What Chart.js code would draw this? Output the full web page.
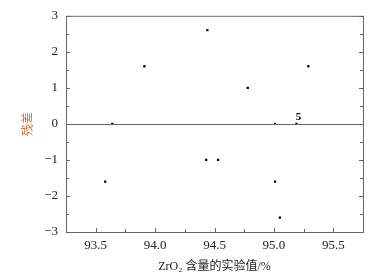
<!DOCTYPE html>
<html>
<head>
    <meta charset="utf-8">
    <title>ZrO2 residuals</title>
    <script src="https://cdn.jsdelivr.net/npm/chart.js@4.4.1/dist/chart.umd.min.js"></script>
    <style>
        body { margin: 0; background: #fff; }
        #wrap { width: 384px; height: 274px; }
    </style>
</head>
<body>
<div id="wrap"><canvas id="chart" width="384" height="274"></canvas></div>
<script>
    // measured values (ZrO2 experimental %, residual)
    const expValues = [93.58, 93.64, 93.91, 94.44, 94.43, 94.53, 94.78, 95.01, 95.01, 95.05, 95.19, 95.29];
    const residuals = [-1.6, 0, 1.6, 2.6, -1, -1, 1, 0, -1.6, -2.6, 0, 1.6];
    const xTicks = [93.5, 94.0, 94.5, 95.0, 95.5];
    const yTicks = [-3, -2, -1, 0, 1, 2, 3];
    const labelledPoint = 10; // the one marked "5"

    const axisColor = '#666';

    const frame = {
        id: 'frame',
        afterDraw(chart) {
            const ctx = chart.ctx;
            const a = chart.chartArea;
            const xs = chart.scales.x, ys = chart.scales.y;
            ctx.save();
            ctx.strokeStyle = axisColor;
            ctx.lineWidth = 1;
            ctx.strokeRect(a.left + 0.5, a.top + 0.5, a.right - a.left, a.bottom - a.top);

            // zero line
            const y0 = Math.round(ys.getPixelForValue(0)) + 0.5;
            ctx.beginPath();
            ctx.moveTo(a.left, y0);
            ctx.lineTo(a.right, y0);
            ctx.stroke();

            // inward ticks, y (left and right)
            ctx.beginPath();
            for (let v = -3; v <= 3; v += 0.5) {
                const p = Math.round(ys.getPixelForValue(v)) + 0.5;
                const len = Number.isInteger(v) ? 4 : 3;
                ctx.moveTo(a.left, p); ctx.lineTo(a.left + len, p);
                ctx.moveTo(a.right, p); ctx.lineTo(a.right - len, p);
            }
            // inward ticks, x (bottom)
            for (let v = 93.5; v <= 95.75; v += 0.25) {
                const p = Math.round(xs.getPixelForValue(v)) + 0.5;
                const len = (Math.abs(v * 2 - Math.round(v * 2)) < 1e-6) ? 4 : 3;
                ctx.moveTo(p, a.bottom); ctx.lineTo(p, a.bottom - len);
            }
            ctx.stroke();

            // label for point 5
            const px = xs.getPixelForValue(expValues[labelledPoint]);
            const py = ys.getPixelForValue(residuals[labelledPoint]);
            ctx.fillStyle = '#000';
            ctx.font = 'bold 11px "Liberation Serif", serif';
            ctx.textAlign = 'center';
            ctx.textBaseline = 'bottom';
            ctx.fillText('5', px + 2, py - 1);
            ctx.restore();
        }
    };

    new Chart(document.getElementById('chart'), {
        type: 'scatter',
        data: {
            datasets: [{
                data: expValues.map((x, i) => ({ x: x, y: residuals[i] })),
                backgroundColor: '#000',
                borderColor: '#000',
                pointStyle: 'rect',
                pointRadius: 1.6,
                borderWidth: 0
            }]
        },
        options: {
            responsive: false,
            animation: false,
            layout: { padding: { top: 13, right: 21, left: 0, bottom: 0 } },
            plugins: { legend: { display: false }, tooltip: { enabled: false } },
            scales: {
                x: {
                    type: 'linear',
                    min: 93.25,
                    max: 95.75,
                    afterBuildTicks: s => { s.ticks = xTicks.map(v => ({ value: v })); },
                    afterFit: s => { s.height = 42; },
                    grid: { display: false, drawTicks: false },
                    border: { display: false },
                    ticks: {
                        padding: 6,
                        color: '#222',
                        font: { family: '"Liberation Serif", serif', size: 13 },
                        callback: v => v.toFixed(1)
                    },
                    title: {
                        display: true,
                        text: 'ZrO₂ 含量的实验值/%',
                        color: '#222',
                        font: { family: '"Liberation Serif", "Noto Sans CJK SC", serif', size: 12 },
                        padding: { top: 2, bottom: 0 }
                    }
                },
                y: {
                    type: 'linear',
                    min: -3,
                    max: 3,
                    afterBuildTicks: s => { s.ticks = yTicks.map(v => ({ value: v })); },
                    afterFit: s => { s.width = 66; },
                    grid: { display: false, drawTicks: false },
                    border: { display: false },
                    ticks: {
                        padding: 8,
                        color: '#222',
                        font: { family: '"Liberation Serif", serif', size: 13 },
                        callback: v => (v < 0 ? '\u2212' + Math.abs(v) : String(v))
                    },
                    title: {
                        display: true,
                        text: '残差',
                        color: '#c8783c',
                        font: { family: '"Noto Sans CJK SC", serif', size: 12 },
                        padding: { top: 20, bottom: 0 }
                    }
                }
            }
        },
        plugins: [frame]
    });
</script>
</body>
</html>
